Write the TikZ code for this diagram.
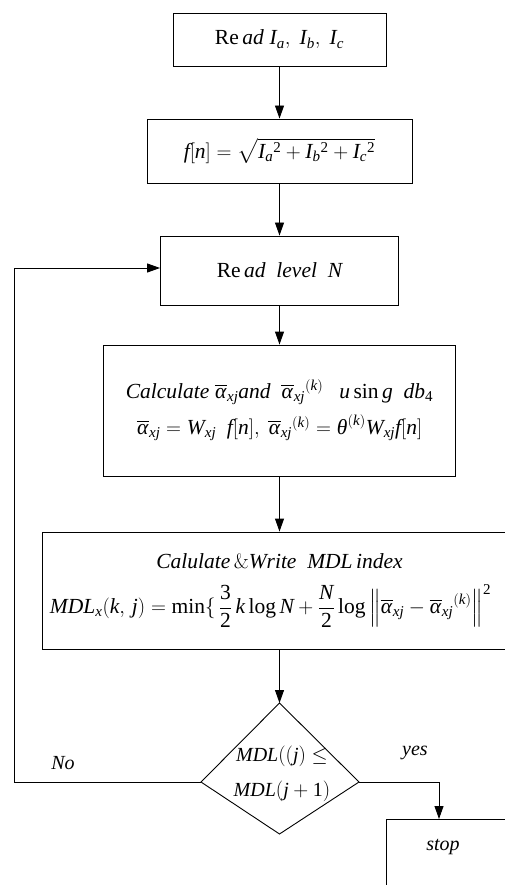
\documentclass[tikz,border=0pt]{standalone}
\usepackage{amsmath}
\usepackage{mathspec}
\setmainfont{Liberation Serif}
\setmathsfont(Digits,Latin,Greek){Liberation Serif}
\setmathrm{Liberation Serif}
\usetikzlibrary{arrows.meta}
\begin{document}
\begin{tikzpicture}[x=1pt,y=-1pt,
  box/.style={draw, line width=0.9pt, rectangle, inner sep=0pt, align=center,
    font=\fontsize{21.5}{25}\selectfont},
  ln/.style={line width=0.9pt},
  arr/.style={line width=0.9pt, -{Triangle[length=13pt,width=9pt]}},
  lbl/.style={inner sep=0pt, font=\fontsize{20}{24}\selectfont}]
\useasboundingbox (0,0) rectangle (505,885);
\clip (0,0) rectangle (505,885);
\node[box, minimum width=213pt, minimum height=53pt] (b1) at (279.5,39.5)
  {Re$\,ad\;I_a,\;I_b,\;I_c$};
\node[box, minimum width=265pt, minimum height=64pt] (b2) at (279.5,151)
  {$f[n]=\sqrt{I_a{}^2+I_b{}^2+I_c{}^2}$};
\node[box, minimum width=238pt, minimum height=69pt] (b3) at (279.5,270.5)
  {Re$\,ad\ \ level\ \ N$};
\node[box, minimum width=352pt, minimum height=131pt] (b4) at (279.5,410.5)
  {$Calculate\ \overline{\alpha}_{xj}and\ \ \overline{\alpha}_{xj}{}^{(k)}\ \ \ u\sin g\ \ db_4$\\[9pt]
   $\overline{\alpha}_{xj}=W_{xj}\ \ f[n],\ \overline{\alpha}_{xj}{}^{(k)}=\theta^{(k)}W_{xj}f[n]$};
\node[box, minimum width=474pt, minimum height=117pt] (b5) at (279.5,590.5)
  {$Calulate\,\&Write\ \ MDL\,index$\\[15pt]
   \hspace*{-18pt}$\displaystyle MDL_x(k,\,j)=\min\{\,\frac{3}{2}\,k\log N+\frac{N}{2}\log\left\|\overline{\alpha}_{xj}-\overline{\alpha}_{xj}{}^{(k)}\right\|^2$};
\coordinate (dt) at (279.5,703);
\coordinate (dl) at (201,782);
\coordinate (dr) at (359,782);
\coordinate (db) at (279.5,834);
\draw[ln] (dt) -- (dr) -- (db) -- (dl) -- cycle;
\node[lbl, align=center] (dtext) at (282,774) {$MDL((j)\le$\\[11pt]$MDL(j+1)$};
\node[box, anchor=north west, minimum width=200pt, minimum height=120pt] (stop) at (386,819) {};
\node[lbl] (stoptxt) at (443,847) {$stop$};
\coordinate (sin) at (439,819);
\coordinate (lp) at (14,268);
\node[lbl] (no) at (63,763) {$No$};
\node[lbl] (yes) at (415,753) {$yes$};
\draw[arr] (b1.south) -- (b2.north);
\draw[arr] (b2.south) -- (b3.north);
\draw[arr] (b3.south) -- (b4.north);
\draw[arr] (b4.south) -- (b5.north);
\draw[arr] (b5.south) -- (dt);
\draw[arr] (dl) -| (lp) -- (lp -| b3.west);
\draw[arr] (dr) -| (sin);
\end{tikzpicture}
\end{document}
